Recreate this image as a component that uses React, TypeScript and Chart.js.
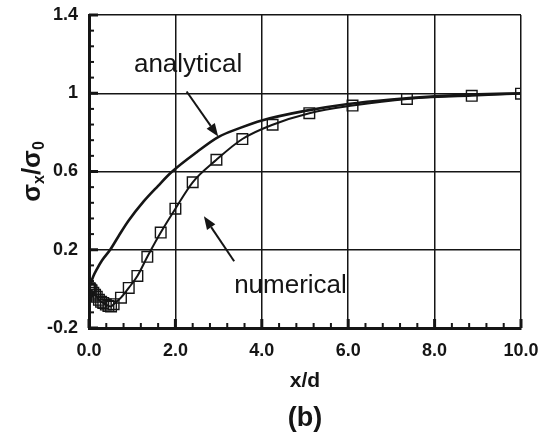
import React, { useEffect, useRef } from 'react';
import { Chart, registerables } from 'chart.js';

Chart.register(...registerables);

// ---- data ----
const numericalX = [0, 0.01, 0.02, 0.04, 0.06, 0.1, 0.14, 0.18, 0.23, 0.28, 0.33, 0.39, 0.45, 0.51, 0.57, 0.74, 0.92, 1.12, 1.35, 1.66, 2.0, 2.4, 2.95, 3.55, 4.25, 5.1, 6.1, 7.36, 8.86, 10.0];
const numericalY = [0, 0.003, 0, -0.004, -0.008, -0.02, -0.03, -0.04, -0.056, -0.066, -0.072, -0.08, -0.087, -0.09, -0.078, -0.045, 0.005, 0.066, 0.164, 0.288, 0.41, 0.545, 0.66, 0.766, 0.839, 0.898, 0.937, 0.971, 0.987, 0.998];

const analyticalX = [0, 0.05, 0.1, 0.18, 0.3, 0.49, 0.68, 0.91, 1.26, 1.6, 1.9, 2.5, 3.0, 3.5, 4.0, 5.0, 6.0, 7.0, 8.0, 9.0, 10.0];
const analyticalY = [0, 0.035, 0.065, 0.1, 0.145, 0.2, 0.268, 0.347, 0.446, 0.527, 0.595, 0.7, 0.777, 0.823, 0.861, 0.91, 0.945, 0.968, 0.984, 0.994, 1.0];

const xMin = 0, xMax = 10, xStep = 2, xMinorStep = 0.4;
const yMin = -0.2, yMax = 1.4, yStep = 0.4, yMinorStep = 0.08;

const annotLabels = ['analytical', 'numerical'];
const annotText = [[1.04, 1.11], [3.36, -0.02]];
const annotArrows = [[2.26, 1.009, 2.99, 0.779], [3.36, 0.141, 2.66, 0.371]];

const xTitle = 'x/d';
const caption = '(b)';

const INK = '#151515';

function drawArrow(ctx: CanvasRenderingContext2D, x0: number, y0: number, x1: number, y1: number) {
  const ang = Math.atan2(y1 - y0, x1 - x0);
  const hl = 13, hw = 5;
  const bx = x1 - hl * Math.cos(ang), by = y1 - hl * Math.sin(ang);
  ctx.lineWidth = 2;
  ctx.beginPath();
  ctx.moveTo(x0, y0);
  ctx.lineTo(bx, by);
  ctx.stroke();
  ctx.beginPath();
  ctx.moveTo(x1, y1);
  ctx.lineTo(bx + hw * Math.sin(ang), by - hw * Math.cos(ang));
  ctx.lineTo(bx - hw * Math.sin(ang), by + hw * Math.cos(ang));
  ctx.closePath();
  ctx.fill();
}

const overlay = {
  id: 'overlay',
  afterDatasetsDraw(chart: any) {
    const { ctx, chartArea: a, scales } = chart;
    const x = scales.x, y = scales.y;
    ctx.save();
    ctx.strokeStyle = INK;
    ctx.fillStyle = INK;
    const ny = Math.round((yMax - yMin) / yMinorStep);
    const perY = Math.round(yStep / yMinorStep);
    for (let i = 0; i <= ny; i++) {
      const py = y.getPixelForValue(yMin + i * yMinorStep);
      const major = i % perY === 0;
      ctx.lineWidth = major ? 3 : 2;
      ctx.beginPath();
      ctx.moveTo(a.left, py);
      ctx.lineTo(a.left + (major ? 9 : 5), py);
      ctx.stroke();
    }
    const nx = Math.round((xMax - xMin) / xMinorStep);
    const perX = Math.round(xStep / xMinorStep);
    for (let i = 0; i <= nx; i++) {
      const px = x.getPixelForValue(xMin + i * xMinorStep);
      const major = i % perX === 0;
      ctx.lineWidth = major ? 3 : 2;
      ctx.beginPath();
      ctx.moveTo(px, a.bottom);
      ctx.lineTo(px, a.bottom - (major ? 9 : 5));
      ctx.stroke();
    }
    annotArrows.forEach((ar) => {
      drawArrow(ctx, x.getPixelForValue(ar[0]), y.getPixelForValue(ar[1]), x.getPixelForValue(ar[2]), y.getPixelForValue(ar[3]));
    });
    ctx.font = '26px "Liberation Sans", Arial, sans-serif';
    ctx.textAlign = 'left';
    ctx.textBaseline = 'alphabetic';
    annotLabels.forEach((t, i) => {
      ctx.fillText(t, x.getPixelForValue(annotText[i][0]), y.getPixelForValue(annotText[i][1]));
    });
    const cx = (a.left + a.right) / 2;
    ctx.textAlign = 'center';
    ctx.textBaseline = 'middle';
    ctx.font = 'bold 21px "Liberation Sans", Arial, sans-serif';
    ctx.fillText(xTitle, cx, a.bottom + 53);
    ctx.font = 'bold 27px "Liberation Sans", Arial, sans-serif';
    ctx.fillText(caption, cx, a.bottom + 91);
    const parts: [string, boolean][] = [['σ', false], ['x', true], ['/', false], ['σ', false], ['0', true]];
    const big = 'bold 26px "Liberation Sans", Arial, sans-serif';
    const small = 'bold 16px "Liberation Sans", Arial, sans-serif';
    let total = 0;
    parts.forEach(([s, sub]) => { ctx.font = sub ? small : big; total += ctx.measureText(s).width; });
    ctx.translate(40, (a.top + a.bottom) / 2);
    ctx.rotate(-Math.PI / 2);
    ctx.textAlign = 'left';
    ctx.textBaseline = 'alphabetic';
    let cur = -total / 2;
    parts.forEach(([s, sub]) => {
      ctx.font = sub ? small : big;
      ctx.fillText(s, cur, sub ? 4 : 0);
      cur += ctx.measureText(s).width;
    });
    ctx.restore();
  },
};

export default function App() {
  const ref = useRef<HTMLCanvasElement | null>(null);
  useEffect(() => {
    if (!ref.current) return;
    const chart = new Chart(ref.current, {
      type: 'line',
      data: {
        datasets: [
          {
            label: 'analytical',
            data: analyticalX.map((v, i) => ({ x: v, y: analyticalY[i] })),
            borderColor: INK,
            borderWidth: 2.6,
            pointRadius: 0,
            cubicInterpolationMode: 'monotone',
            fill: false,
          },
          {
            label: 'numerical',
            data: numericalX.map((v, i) => ({ x: v, y: numericalY[i] })),
            borderColor: INK,
            borderWidth: 2,
            pointStyle: 'rect',
            pointRadius: 7.5,
            pointBorderWidth: 1.4,
            pointBorderColor: INK,
            pointBackgroundColor: 'rgba(0,0,0,0)',
            cubicInterpolationMode: 'monotone',
            fill: false,
          },
        ],
      },
      options: {
        animation: false,
        responsive: false,
        devicePixelRatio: 1,
        layout: { padding: { left: 0, top: 15, right: 20, bottom: 0 } },
        plugins: { legend: { display: false }, tooltip: { enabled: false } },
        scales: {
          x: {
            type: 'linear',
            min: xMin,
            max: xMax,
            afterFit: (s: any) => { s.height = 104; s.paddingLeft = 0; s.paddingRight = 0; },
            ticks: {
              stepSize: xStep,
              color: INK,
              font: { family: '"Liberation Sans", Arial, sans-serif', size: 18, weight: 'bold' },
              padding: 12,
              maxRotation: 0,
              callback: (v: any) => Number(v).toFixed(1),
            },
            grid: { drawTicks: false, color: INK, lineWidth: 1.5 },
            border: { display: true, color: INK, width: 3 },
          },
          y: {
            type: 'linear',
            min: yMin,
            max: yMax,
            afterFit: (s: any) => { s.width = 89; s.paddingTop = 0; s.paddingBottom = 0; },
            ticks: {
              stepSize: yStep,
              color: INK,
              font: { family: '"Liberation Sans", Arial, sans-serif', size: 18, weight: 'bold' },
              padding: 11,
              callback: (v: any) => String(parseFloat(Number(v).toFixed(2))),
            },
            grid: { drawTicks: false, color: INK, lineWidth: 1.5 },
            border: { display: true, color: INK, width: 3 },
          },
        },
      },
      plugins: [overlay],
    } as any);
    return () => chart.destroy();
  }, []);
  return (
    <div style={{ position: 'absolute', left: 0, top: 0, width: 541, height: 432, background: '#fff' }}>
      <canvas ref={ref} width={541} height={432} style={{ display: 'block' }} />
    </div>
  );
}
